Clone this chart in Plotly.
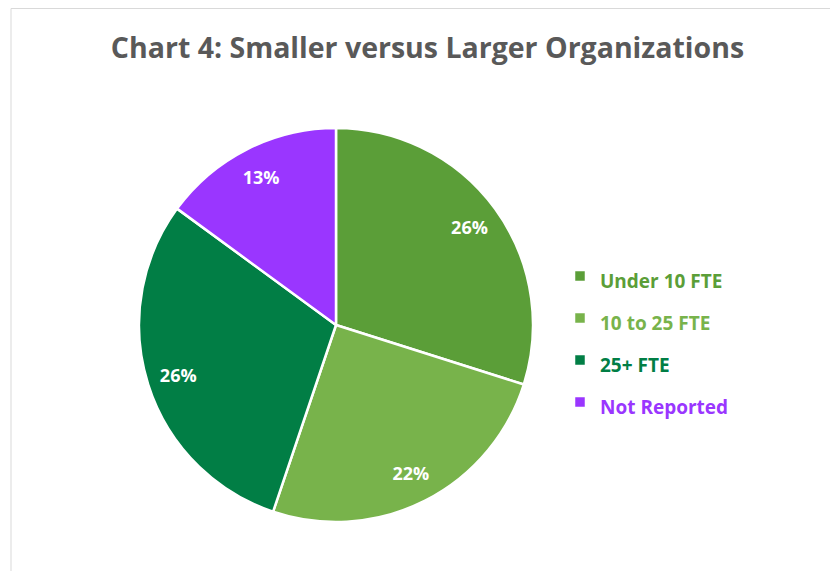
import plotly.graph_objects as go

categories = ["Under 10 FTE", "10 to 25 FTE", "25+ FTE", "Not Reported"]
values = [26, 22, 26, 13]
label_text = ["26%", "22%", "26%", "13%"]
colors = ["#5B9E38", "#78B34B", "#017E45", "#9A36FF"]

W, H = 830, 571

legend_labels = [f"<span style='color:{c};font-size:19px'><b>{n}</b></span>"
                 for n, c in zip(categories, colors)]

cx, cy, r = 336, 325, 197
dom_x = [(cx - r) / W, (cx + r) / W]
dom_y = [1 - (cy + r) / H, 1 - (cy - r) / H]

fig = go.Figure()
fig.add_trace(go.Pie(
    labels=legend_labels, values=values, sort=False, direction="clockwise",
    rotation=0, marker=dict(colors=colors, line=dict(color="white", width=2.5)),
    textinfo="none", domain=dict(x=dom_x, y=dom_y), showlegend=True,
))
fig.add_trace(go.Pie(
    labels=legend_labels, values=values, sort=False, direction="clockwise",
    rotation=0, hole=0.68,
    marker=dict(colors=["rgba(0,0,0,0)"] * 4, line=dict(width=0)),
    text=label_text, textinfo="text", textposition="inside",
    insidetextorientation="horizontal",
    textfont=dict(family="Open Sans", size=18, color="white", weight="bold"),
    domain=dict(x=dom_x, y=dom_y), showlegend=False, hoverinfo="skip",
))

fig.update_layout(
    width=W, height=H, margin=dict(l=0, r=0, t=0, b=0),
    paper_bgcolor="white", plot_bgcolor="white",
    title=dict(text="<b>Chart 4: Smaller versus Larger Organizations</b>",
               x=0.515, xanchor="center", y=1 - 48 / H, yanchor="middle",
               font=dict(family="Open Sans", size=28.5, color="#595959")),
    legend=dict(x=560 / W, xanchor="left", y=1 - 339 / H, yanchor="middle",
                font=dict(family="Open Sans", size=30, color="#595959"),
                itemclick=False),
    shapes=[dict(type="rect", xref="paper", yref="paper",
                 x0=11 / W, x1=1.05, y0=-0.05, y1=1 - 8.5 / H,
                 line=dict(color="#D9D9D9", width=1), fillcolor="rgba(0,0,0,0)")],
)

fig.write_html("out.html")
